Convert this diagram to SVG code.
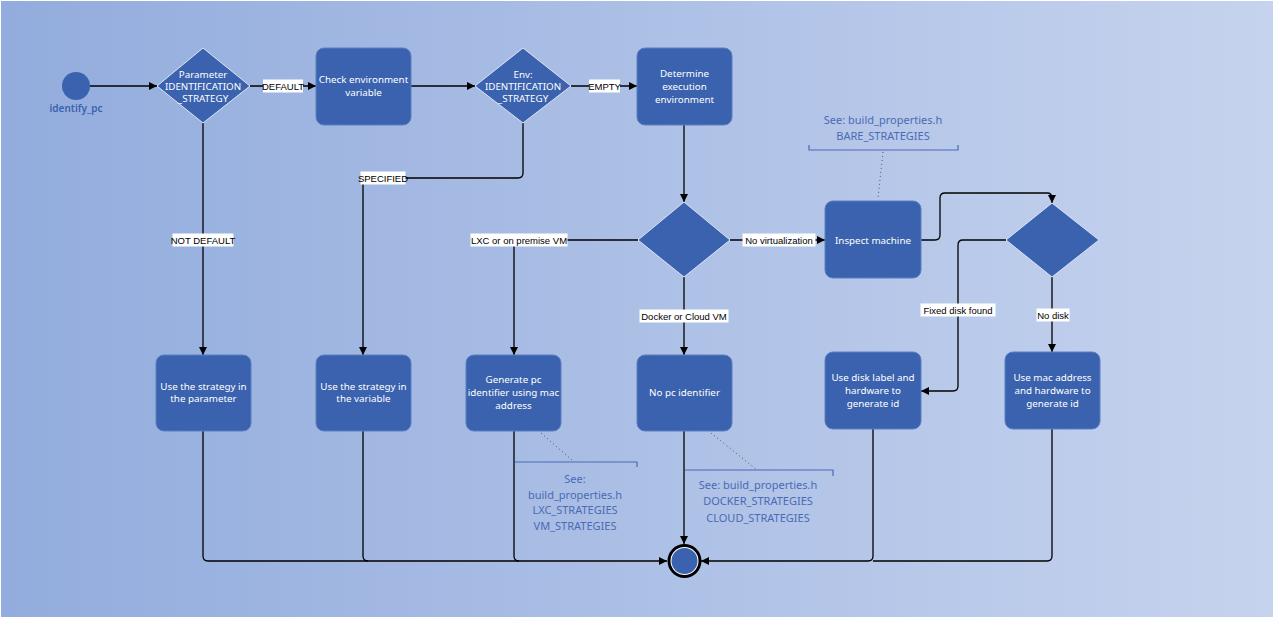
<svg xmlns="http://www.w3.org/2000/svg" width="1275" height="619" viewBox="0 0 1275 619">
<defs>
<linearGradient id="bg" x1="0" y1="0" x2="1" y2="0">
<stop offset="0" stop-color="#92ACDD"/>
<stop offset="1" stop-color="#C6D3EE"/>
</linearGradient>
<marker id="arr" markerWidth="8" markerHeight="8" refX="8" refY="4" orient="auto" markerUnits="userSpaceOnUse">
<path d="M0,0 L8,4 L0,8 z" fill="#000"/>
</marker>
</defs>
<style>
.box{fill:#3A62AE;stroke:#5A7EC2;stroke-width:1}
.dia{fill:#3A62AE;stroke:#DCE4F4;stroke-width:1}
.nt{font-family:"Noto Sans","Open Sans",sans-serif;font-size:9.8px;fill:#fff;text-anchor:middle}
.conn path{fill:none;stroke:#000;stroke-width:1.3}
.arrow{marker-end:url(#arr)}
.lbl rect{fill:#fff}
.lbl text{font-family:"Liberation Sans",Arial,sans-serif;font-size:9.5px;fill:#000;text-anchor:middle}
.ann{font-family:"Noto Sans","Open Sans",sans-serif;font-size:11px;fill:#4A6BB4;text-anchor:middle}
.brk{fill:none;stroke:#4A6BB4;stroke-width:1.2}
.dot{fill:none;stroke:#555;stroke-width:1;stroke-dasharray:1 3}
</style>
<rect x="0" y="0" width="1275" height="619" fill="#fff"/>
<rect x="1" y="1" width="1272" height="616" fill="url(#bg)"/>

<g id="connectors" class="conn">
<path class="arrow" d="M90,86 H157"/>
<path class="arrow" d="M250,86 H316"/>
<path class="arrow" d="M411,86 H475"/>
<path class="arrow" d="M571,86 H637"/>
<path class="arrow" d="M203,123 V355"/>
<path class="arrow" d="M523,123 V173 Q523,178 518,178 H368 Q363,178 363,183 V355"/>
<path class="arrow" d="M684,125 V202"/>
<path class="arrow" d="M638,240 H519 Q514,240 514,245 V355"/>
<path class="arrow" d="M730,240 H825"/>
<path class="arrow" d="M684,277 V355"/>
<path class="arrow" d="M921,240 H935 Q940,240 940,235 V198 Q940,193 945,193 H1047 Q1052,193 1052,198 V203"/>
<path class="arrow" d="M1006,240 H963 Q958,240 958,245 V386 Q958,391 953,391 H921"/>
<path class="arrow" d="M1052,277 V352"/>
<path class="arrow" d="M203,431 V556 Q203,561 208,561 H667"/>
<path d="M363,431 V556 Q363,561 368,561"/>
<path d="M514,431 V556 Q514,561 519,561"/>
<path class="arrow" d="M684,431 V544"/>
<path class="arrow" d="M873,429 V556 Q873,561 868,561 H701"/>
<path d="M1052,429 V556 Q1052,561 1047,561 H873"/>
</g>

<g id="connector-labels" class="lbl">
<rect x="263" y="79.5" width="40" height="13"/><text x="283" y="89.5">DEFAULT</text>
<rect x="589" y="79.5" width="31" height="13"/><text x="604.5" y="89.5">EMPTY</text>
<rect x="172.5" y="233.5" width="61" height="13"/><text x="203" y="243.5">NOT DEFAULT</text>
<rect x="360.5" y="171.5" width="45" height="13"/><text x="383" y="181.5">SPECIFIED</text>
<rect x="470.5" y="233.5" width="97" height="13"/><text x="519" y="243.5">LXC or on premise VM</text>
<rect x="742.5" y="233.5" width="73" height="13"/><text x="779" y="243.5">No virtualization</text>
<rect x="639.5" y="309.5" width="89" height="13"/><text x="684" y="319.5">Docker or Cloud VM</text>
<rect x="920.5" y="303.5" width="75" height="13"/><text x="958" y="313.5">Fixed disk found</text>
<rect x="1036.5" y="308.5" width="33" height="13"/><text x="1053" y="318.5">No disk</text>
</g>

<g id="start">
<circle cx="76" cy="86" r="14" fill="#3A62AE"/>
<text x="76" y="112" font-family="Noto Sans,Open Sans,sans-serif" font-size="10px" font-weight="600" fill="#3A62AE" text-anchor="middle">identify_pc</text>
</g>

<g id="decision-parameter">
<polygon class="dia" points="203,48 250,86 203,123 157,86"/>
<text class="nt" x="203" y="78">Parameter</text>
<text class="nt" x="203" y="90">IDENTIFICATION</text>
<text class="nt" x="203" y="102">_STRATEGY</text>
</g>

<g id="check-env">
<rect class="box" x="316" y="48" width="95" height="77" rx="8"/>
<text class="nt" x="363.5" y="83">Check environment</text>
<text class="nt" x="363.5" y="96">variable</text>
</g>

<g id="decision-env">
<polygon class="dia" points="523,48 571,86 523,123 475,86"/>
<text class="nt" x="523" y="78">Env:</text>
<text class="nt" x="523" y="90">IDENTIFICATION</text>
<text class="nt" x="523" y="102">_STRATEGY</text>
</g>

<g id="determine-env">
<rect class="box" x="637" y="48" width="95" height="77" rx="8"/>
<text class="nt" x="684.5" y="77">Determine</text>
<text class="nt" x="684.5" y="90">execution</text>
<text class="nt" x="684.5" y="103">environment</text>
</g>

<g id="decision-virt">
<polygon class="dia" points="684,202 730,240 684,277 638,240"/>
</g>

<g id="inspect-machine">
<rect class="box" x="825" y="201" width="96" height="77" rx="8"/>
<text class="nt" x="873" y="243.5">Inspect machine</text>
</g>

<g id="decision-disk">
<polygon class="dia" points="1052,203 1099,240 1052,277 1006,240"/>
</g>

<g id="use-param">
<rect class="box" x="156" y="355" width="95" height="76" rx="8"/>
<text class="nt" x="203.5" y="390">Use the strategy in</text>
<text class="nt" x="203.5" y="402">the parameter</text>
</g>

<g id="use-var">
<rect class="box" x="316" y="355" width="95" height="76" rx="8"/>
<text class="nt" x="363.5" y="390">Use the strategy in</text>
<text class="nt" x="363.5" y="402">the variable</text>
</g>

<g id="generate-pc">
<rect class="box" x="466" y="355" width="95" height="76" rx="8"/>
<text class="nt" x="513.5" y="383">Generate pc</text>
<text class="nt" x="513.5" y="396">identifier using mac</text>
<text class="nt" x="513.5" y="409">address</text>
</g>

<g id="no-pc">
<rect class="box" x="637" y="355" width="95" height="76" rx="8"/>
<text class="nt" x="684.5" y="396">No pc identifier</text>
</g>

<g id="use-disk">
<rect class="box" x="825" y="352" width="96" height="77" rx="8"/>
<text class="nt" x="873" y="381">Use disk label and</text>
<text class="nt" x="873" y="394">hardware to</text>
<text class="nt" x="873" y="407">generate id</text>
</g>

<g id="use-mac">
<rect class="box" x="1005" y="352" width="95" height="77" rx="8"/>
<text class="nt" x="1052.5" y="381">Use mac address</text>
<text class="nt" x="1052.5" y="394">and hardware to</text>
<text class="nt" x="1052.5" y="407">generate id</text>
</g>

<g id="end">
<circle cx="684.5" cy="561" r="17" fill="#000"/>
<circle cx="684.5" cy="561" r="14" fill="#fff"/>
<circle cx="684.5" cy="561" r="13" fill="#3A62AE"/>
</g>

<g id="note-bare">
<path class="dot" d="M883,152 L878,198"/>
<path class="brk" d="M809,145 V150 H958 V145"/>
<text class="ann" x="883" y="124">See: build_properties.h</text>
<text class="ann" x="883" y="140">BARE_STRATEGIES</text>
</g>

<g id="note-lxc">
<path class="dot" d="M541,433 L573,461"/>
<path class="brk" d="M515,462 H637 V467"/>
<text class="ann" x="575" y="483">See:</text>
<text class="ann" x="575" y="499">build_properties.h</text>
<text class="ann" x="575" y="514">LXC_STRATEGIES</text>
<text class="ann" x="575" y="530">VM_STRATEGIES</text>
</g>

<g id="note-docker">
<path class="dot" d="M711,433 L757,470"/>
<path class="brk" d="M685,470 H833 V476"/>
<text class="ann" x="758" y="489">See: build_properties.h</text>
<text class="ann" x="758" y="505">DOCKER_STRATEGIES</text>
<text class="ann" x="758" y="522">CLOUD_STRATEGIES</text>
</g>
</svg>
